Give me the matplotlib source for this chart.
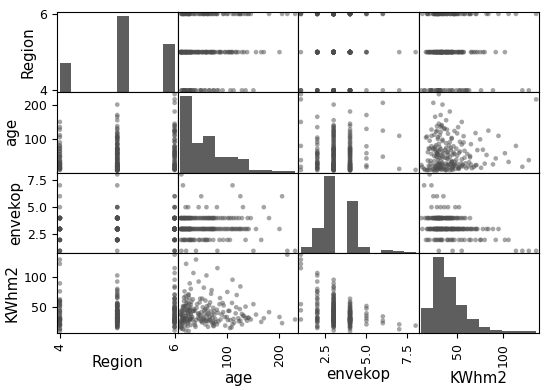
import numpy as np
import matplotlib
matplotlib.use("Agg")
import matplotlib.pyplot as plt

# ---- data (one entry per record) ----
region = [6, 4, 4, 6, 5, 6, 5, 6, 4, 5, 6, 5, 4, 6, 5, 6, 5, 4,
          4, 6, 6, 4, 5, 5, 5, 6, 5, 4, 6, 5, 6, 5, 6, 6, 5, 5,
          5, 5, 6, 5, 4, 5, 6, 5, 4, 5, 6, 5, 4, 5, 6, 5, 6, 6, 5, 6, 5, 4,
          5, 5, 6, 4, 5, 5, 6, 5, 4, 5, 6, 5, 5, 6, 4, 5, 6, 5, 5, 6, 4, 5,
          6, 5, 6, 4, 5, 6, 5, 6, 4, 5, 6, 5, 6,
          5, 6, 4, 5, 5, 6, 5, 6, 4, 5, 6, 5,
          5, 6, 4, 5, 5, 6, 5, 4, 6, 5, 5, 6, 4, 5, 6,
          5, 6, 4, 5, 5, 6, 5, 6, 5, 4, 5, 6, 5, 6, 5, 6, 4, 5, 6, 5, 6,
          5, 5, 4, 5, 6, 5, 5, 4, 5, 6, 5, 5, 4, 5, 6, 5, 4, 5, 5, 6, 5, 4, 5, 6,
          5, 4, 5, 6, 5, 5, 4, 5, 6, 5, 4, 5, 5, 6, 5, 4, 5, 5, 6, 5, 4, 5,
          6, 5, 5, 4, 5, 6, 5, 5, 4, 5, 6, 5, 6]

age = [215, 40, 21, 81, 60, 35, 45, 110, 28, 30, 125, 70, 18, 55, 100, 230, 12, 150,
       50, 125, 205, 15, 110, 12, 170, 25, 45, 80, 130, 20, 60, 155, 145, 180, 165, 200,
       14, 22, 27, 11, 19, 30, 16, 25, 29, 38, 47, 52, 34, 58, 66, 73, 62, 56, 85, 92, 105, 135,
       10, 11, 12, 13, 14, 15, 16, 17, 18, 19, 20, 21, 22, 23, 24, 25, 26, 27, 28, 29, 30, 31,
       12, 13, 15, 17, 19, 22, 24, 26, 28, 30, 14, 20, 27,
       33, 36, 38, 40, 42, 44, 46, 48, 50, 51, 53, 35,
       54, 56, 58, 59, 61, 63, 64, 66, 67, 69, 70, 72, 73, 74, 75,
       77, 80, 83, 86, 89, 93, 96, 99, 102, 106, 109, 113, 116, 118,
       121, 124, 128, 132, 135, 138, 141,
       10, 11, 12, 13, 14, 15, 16, 17, 18, 19, 20, 21, 22, 23, 24, 25, 26, 27, 28, 29, 30, 31, 12, 18,
       33, 35, 37, 39, 41, 44, 47, 49, 52, 54, 56, 58, 60, 62, 64, 65, 67, 69, 71, 72, 74, 75,
       78, 82, 87, 91, 95, 101, 104, 108, 112, 117, 122, 128, 139]

envekop = [1, 1, 1, 1, 2, 2, 2, 3, 3, 2, 3, 3, 2, 3, 2, 1, 1, 1,
           6, 6, 6, 7, 7, 8, 5, 5, 5, 5, 5, 5, 5, 3, 4, 4, 2, 3,
           2, 2, 2, 2, 2, 2, 2, 2, 2, 2, 2, 2, 2, 2, 2, 2, 2, 2, 2, 2, 2, 2,
           3, 3, 3, 3, 3, 3, 3, 3, 3, 3, 3, 3, 3, 3, 3, 3, 3, 3, 3, 3, 3, 3,
           3, 3, 3, 3, 3, 3, 3, 3, 3, 3, 3, 3, 3,
           3, 3, 3, 3, 3, 3, 3, 3, 3, 3, 3, 3,
           3, 3, 3, 3, 3, 3, 3, 3, 3, 3, 3, 3, 3, 3, 3,
           3, 3, 3, 3, 3, 3, 3, 3, 3, 3, 3, 3, 3, 3, 3, 3, 3, 3, 3, 3, 3,
           4, 4, 4, 4, 4, 4, 4, 4, 4, 4, 4, 4, 4, 4, 4, 4, 4, 4, 4, 4, 4, 4, 4, 4,
           4, 4, 4, 4, 4, 4, 4, 4, 4, 4, 4, 4, 4, 4, 4, 4, 4, 4, 4, 4, 4, 4,
           4, 4, 4, 4, 4, 4, 4, 4, 4, 4, 4, 4, 4]

kwhm2 = [136, 128, 121, 114, 102, 106, 92, 95, 89, 80, 84, 78, 76, 82, 75, 30, 45, 55,
         35, 28, 24, 14, 22, 20, 32, 48, 40, 22, 36, 52, 28, 38, 30, 42, 26, 34,
         33, 45, 65, 18, 52, 40, 28, 70, 31, 44, 58, 25, 63, 47, 34, 20, 39, 29, 55, 42, 16, 32,
         25, 38, 17, 29, 44, 52, 31, 66, 27, 41, 12, 35, 57, 46, 24, 39, 71, 30, 43, 50, 21, 33,
         37, 26, 48, 60, 32, 62, 19, 28, 45, 54, 36, 68, 56,
         34, 47, 21, 29, 55, 39, 31, 64, 42, 27, 50, 44,
         33, 45, 61, 28, 52, 18, 40, 30, 58, 72, 37, 26, 49, 24, 43,
         31, 46, 27, 65, 38, 53, 20, 34, 44, 29, 57, 25, 40, 70,
         32, 47, 22, 36, 51, 28, 33,
         28, 42, 15, 33, 39, 24, 51, 30, 45, 20, 27, 36, 32, 55, 26, 41, 11, 34, 47, 29, 38, 59, 23, 31,
         30, 44, 25, 18, 49, 33, 37, 28, 64, 31, 40, 22, 35, 46, 27, 53, 29, 43, 24, 32, 19, 38,
         26, 41, 30, 57, 34, 29, 44, 17, 31, 50, 27, 39, 33]

columns = ["Region", "age", "envekop", "KWhm2"]
tick_values = {"Region": [4, 6], "age": [100, 200],
               "envekop": [2.5, 5.0, 7.5], "KWhm2": [50, 100]}
tick_labels = {"Region": ["4", "6"], "age": ["100", "200"],
               "envekop": ["2.5", "5.0", "7.5"], "KWhm2": ["50", "100"]}

assert len(region) == len(age) == len(envekop) == len(kwhm2), \
    (len(region), len(age), len(envekop), len(kwhm2))

data = {"Region": np.array(region, float), "age": np.array(age, float),
        "envekop": np.array(envekop, float), "KWhm2": np.array(kwhm2, float)}

bar_color = "#5e5e5e"
pt_color = "#4d4d4d"
tick_fs = 9
label_fs = 10.8

bounds = {}
for c in columns:
    v = data[c]
    lo, hi = v.min(), v.max()
    ext = (hi - lo) * 0.05 / 2
    bounds[c] = (lo - ext, hi + ext)

fig, axes = plt.subplots(4, 4, figsize=(5.5, 3.9), dpi=100)
fig.subplots_adjust(left=57 / 550, right=539 / 550, top=1 - 12 / 390,
                    bottom=1 - 333 / 390, wspace=0, hspace=0)

n = len(columns)
for i, a in enumerate(columns):
    for j, b in enumerate(columns):
        ax = axes[i, j]
        if i == j:
            ax.hist(data[a], bins=10, color=bar_color)
            ax.set_xlim(bounds[a])
        else:
            ax.scatter(data[b], data[a], marker=".", s=45, alpha=0.5,
                       color=pt_color, edgecolors="none")
            ax.set_xlim(bounds[b])
            ax.set_ylim(bounds[a])
        ax.set_xlabel(b, fontsize=label_fs, labelpad=3)
        ax.set_ylabel(a, fontsize=label_fs, labelpad=3)
        ax.set_xticks(tick_values[b])
        ax.set_xticklabels(tick_labels[b], rotation=90, fontsize=tick_fs)
        if i != j:
            ax.set_yticks(tick_values[a])
            ax.set_yticklabels(tick_labels[a], fontsize=tick_fs)
        if j != 0:
            ax.yaxis.set_visible(False)
        if i != n - 1:
            ax.xaxis.set_visible(False)

# first diagonal cell: map Region ticks onto histogram y scale
lim1 = bounds["Region"]
locs = np.array(tick_values["Region"], float)
frac = (locs - lim1[0]) / (lim1[1] - lim1[0])
ylo, yhi = axes[0, 0].get_ylim()
axes[0, 0].set_yticks(frac * (yhi - ylo) + ylo)
axes[0, 0].set_yticklabels(tick_labels["Region"], fontsize=tick_fs)

fig.savefig("out.png", dpi=100)
